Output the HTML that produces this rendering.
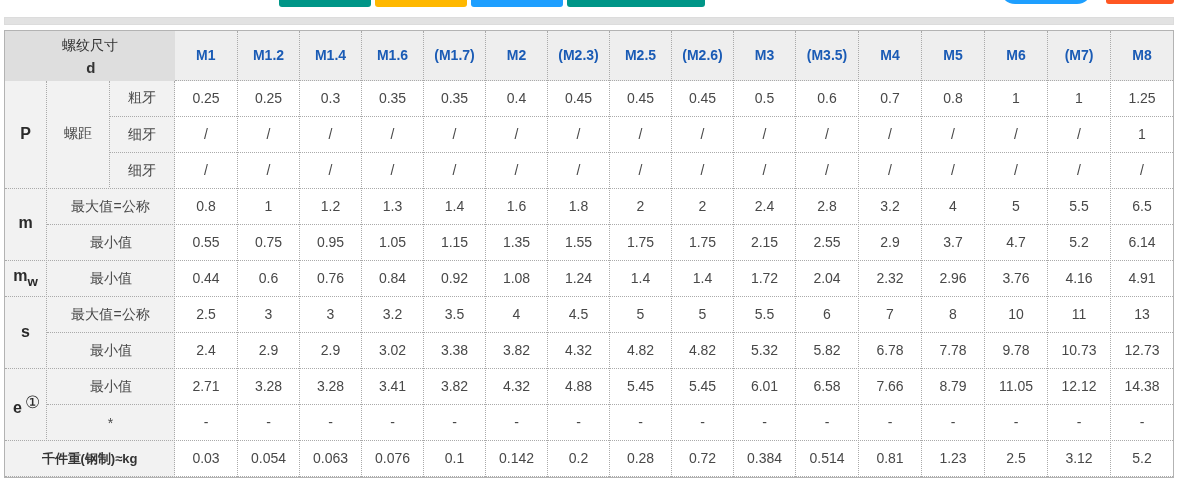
<!DOCTYPE html>
<html><head><meta charset="utf-8">
<style>
html,body{margin:0;padding:0;background:#fff;}
body{width:1178px;height:483px;overflow:hidden;position:relative;font-family:"Liberation Sans",sans-serif;font-size:14px;color:#484848;}
.btn{position:absolute;top:-20px;height:27px;border-radius:3px;}
.b1{left:279px;width:92px;background:#009688;}
.b2{left:375px;width:92px;background:#FFB800;}
.b3{left:471px;width:92px;background:#1E9FFF;}
.b4{left:567px;width:138px;background:#009688;}
.b5{left:1000px;width:92px;top:-26px;height:30px;border-radius:15px;background:#1E9FFF;}
.b6{left:1106px;width:68px;top:-23px;height:27px;background:#FF5722;}
.bar{position:absolute;left:4px;top:17px;width:1170px;height:8px;background:#e2e2e2;box-sizing:border-box;border:1px solid #dcdcdc;}
table{position:absolute;left:4px;top:30px;border-collapse:collapse;table-layout:fixed;width:1170px;border:1px solid transparent;border-bottom:none;will-change:transform;}
td{border:1px dotted transparent;text-align:center;padding:0;height:35px;}
td i{font-style:normal;position:relative;top:-1px;}
tr.h td{height:49px;background:#eee;color:#1a5bb5;font-weight:bold;border-top:1px solid transparent;}
tr.h td.f{background:#dedede;color:#333;font-weight:normal;border:none;border-left:1px solid transparent;border-top:1px solid transparent;line-height:21px;padding-top:2px;height:47px;}
tr.h td.f b{position:relative;top:1px;left:1px;font-size:15px;}
tr.h td.m1{border-left:none;}
tr.r1 td.l{border-top:none;}
svg.ov{position:absolute;left:0;top:0;width:1178px;height:483px;shape-rendering:crispEdges;}
td.l{background:#f2f2f2;}
td.l i{top:0;}
td.b{font-weight:bold;font-size:16px;color:#2a2a2a;}
td.b i{top:0;}
td.wt{font-size:13px;color:#333;}
td.wt i{top:0;}
td.mm i{top:-2px;}
td.ss i{top:-1px;}
td.b i.mwi{top:-1px;}
i.mwi sub{position:relative;top:1px;}
.c{font-weight:normal;font-size:17px;position:relative;top:-5px;margin-left:3px;}
td.b i.ei{top:3px;left:1px;}
</style></head><body>
<div class="btn b1"></div><div class="btn b2"></div><div class="btn b3"></div><div class="btn b4"></div><div class="btn b5"></div><div class="btn b6"></div>
<div class="bar"></div>
<table>
<colgroup><col style="width:42px"><col style="width:63px"><col style="width:65px"><col style="width:63px"><col style="width:62px"><col style="width:62px"><col style="width:62px"><col style="width:62px"><col style="width:62px"><col style="width:62px"><col style="width:62px"><col style="width:62px"><col style="width:62px"><col style="width:63px"><col style="width:63px"><col style="width:63px"><col style="width:63px"><col style="width:63px"><col style="width:63px"></colgroup>
<tr class="h"><td class="f" colspan="3">螺纹尺寸<br><b>d</b></td><td class=m1><i>M1</i></td><td><i>M1.2</i></td><td><i>M1.4</i></td><td><i>M1.6</i></td><td><i>(M1.7)</i></td><td><i>M2</i></td><td><i>(M2.3)</i></td><td><i>M2.5</i></td><td><i>(M2.6)</i></td><td><i>M3</i></td><td><i>(M3.5)</i></td><td><i>M4</i></td><td><i>M5</i></td><td><i>M6</i></td><td><i>(M7)</i></td><td><i>M8</i></td></tr>
<tr class="r1"><td class="l b" rowspan="3"><i>P</i></td><td class="l" rowspan="3"><i>螺距</i></td><td class="l"><i>粗牙</i></td><td><i>0.25</i></td><td><i>0.25</i></td><td><i>0.3</i></td><td><i>0.35</i></td><td><i>0.35</i></td><td><i>0.4</i></td><td><i>0.45</i></td><td><i>0.45</i></td><td><i>0.45</i></td><td><i>0.5</i></td><td><i>0.6</i></td><td><i>0.7</i></td><td><i>0.8</i></td><td><i>1</i></td><td><i>1</i></td><td><i>1.25</i></td></tr>
<tr><td class="l"><i>细牙</i></td><td><i>/</i></td><td><i>/</i></td><td><i>/</i></td><td><i>/</i></td><td><i>/</i></td><td><i>/</i></td><td><i>/</i></td><td><i>/</i></td><td><i>/</i></td><td><i>/</i></td><td><i>/</i></td><td><i>/</i></td><td><i>/</i></td><td><i>/</i></td><td><i>/</i></td><td><i>1</i></td></tr>
<tr><td class="l"><i>细牙</i></td><td><i>/</i></td><td><i>/</i></td><td><i>/</i></td><td><i>/</i></td><td><i>/</i></td><td><i>/</i></td><td><i>/</i></td><td><i>/</i></td><td><i>/</i></td><td><i>/</i></td><td><i>/</i></td><td><i>/</i></td><td><i>/</i></td><td><i>/</i></td><td><i>/</i></td><td><i>/</i></td></tr>
<tr><td class="l b mm" rowspan="2"><i>m</i></td><td class="l" colspan="2"><i>最大值=公称</i></td><td><i>0.8</i></td><td><i>1</i></td><td><i>1.2</i></td><td><i>1.3</i></td><td><i>1.4</i></td><td><i>1.6</i></td><td><i>1.8</i></td><td><i>2</i></td><td><i>2</i></td><td><i>2.4</i></td><td><i>2.8</i></td><td><i>3.2</i></td><td><i>4</i></td><td><i>5</i></td><td><i>5.5</i></td><td><i>6.5</i></td></tr>
<tr><td class="l" colspan="2"><i>最小值</i></td><td><i>0.55</i></td><td><i>0.75</i></td><td><i>0.95</i></td><td><i>1.05</i></td><td><i>1.15</i></td><td><i>1.35</i></td><td><i>1.55</i></td><td><i>1.75</i></td><td><i>1.75</i></td><td><i>2.15</i></td><td><i>2.55</i></td><td><i>2.9</i></td><td><i>3.7</i></td><td><i>4.7</i></td><td><i>5.2</i></td><td><i>6.14</i></td></tr>
<tr><td class="l b"><i class=mwi>m<sub>w</sub></i></td><td class="l" colspan="2"><i>最小值</i></td><td><i>0.44</i></td><td><i>0.6</i></td><td><i>0.76</i></td><td><i>0.84</i></td><td><i>0.92</i></td><td><i>1.08</i></td><td><i>1.24</i></td><td><i>1.4</i></td><td><i>1.4</i></td><td><i>1.72</i></td><td><i>2.04</i></td><td><i>2.32</i></td><td><i>2.96</i></td><td><i>3.76</i></td><td><i>4.16</i></td><td><i>4.91</i></td></tr>
<tr><td class="l b ss" rowspan="2"><i>s</i></td><td class="l" colspan="2"><i>最大值=公称</i></td><td><i>2.5</i></td><td><i>3</i></td><td><i>3</i></td><td><i>3.2</i></td><td><i>3.5</i></td><td><i>4</i></td><td><i>4.5</i></td><td><i>5</i></td><td><i>5</i></td><td><i>5.5</i></td><td><i>6</i></td><td><i>7</i></td><td><i>8</i></td><td><i>10</i></td><td><i>11</i></td><td><i>13</i></td></tr>
<tr><td class="l" colspan="2"><i>最小值</i></td><td><i>2.4</i></td><td><i>2.9</i></td><td><i>2.9</i></td><td><i>3.02</i></td><td><i>3.38</i></td><td><i>3.82</i></td><td><i>4.32</i></td><td><i>4.82</i></td><td><i>4.82</i></td><td><i>5.32</i></td><td><i>5.82</i></td><td><i>6.78</i></td><td><i>7.78</i></td><td><i>9.78</i></td><td><i>10.73</i></td><td><i>12.73</i></td></tr>
<tr><td class="l b" rowspan="2"><i class=ei>e<span class=c>①</span></i></td><td class="l" colspan="2"><i>最小值</i></td><td><i>2.71</i></td><td><i>3.28</i></td><td><i>3.28</i></td><td><i>3.41</i></td><td><i>3.82</i></td><td><i>4.32</i></td><td><i>4.88</i></td><td><i>5.45</i></td><td><i>5.45</i></td><td><i>6.01</i></td><td><i>6.58</i></td><td><i>7.66</i></td><td><i>8.79</i></td><td><i>11.05</i></td><td><i>12.12</i></td><td><i>14.38</i></td></tr>
<tr><td class="l" colspan="2"><i>*</i></td><td><i>-</i></td><td><i>-</i></td><td><i>-</i></td><td><i>-</i></td><td><i>-</i></td><td><i>-</i></td><td><i>-</i></td><td><i>-</i></td><td><i>-</i></td><td><i>-</i></td><td><i>-</i></td><td><i>-</i></td><td><i>-</i></td><td><i>-</i></td><td><i>-</i></td><td><i>-</i></td></tr>
<tr><td class="l b wt" colspan="3"><i>千件重(钢制)≈kg</i></td><td><i>0.03</i></td><td><i>0.054</i></td><td><i>0.063</i></td><td><i>0.076</i></td><td><i>0.1</i></td><td><i>0.142</i></td><td><i>0.2</i></td><td><i>0.28</i></td><td><i>0.72</i></td><td><i>0.384</i></td><td><i>0.514</i></td><td><i>0.81</i></td><td><i>1.23</i></td><td><i>2.5</i></td><td><i>3.12</i></td><td><i>5.2</i></td></tr>
</table>
<svg class="ov" width="1178" height="483" viewBox="0 0 1178 483"><rect x="175" y="80" width="1" height="1" fill="#aaa"/><line x1="176" y1="80.5" x2="1173" y2="80.5" stroke="#aaa" stroke-width="1" stroke-dasharray="1 1"/><line x1="110" y1="116.5" x2="1173" y2="116.5" stroke="#aaa" stroke-width="1" stroke-dasharray="1 1"/><line x1="110" y1="152.5" x2="1173" y2="152.5" stroke="#aaa" stroke-width="1" stroke-dasharray="1 1"/><rect x="5" y="188" width="1" height="1" fill="#aaa"/><line x1="6" y1="188.5" x2="1173" y2="188.5" stroke="#aaa" stroke-width="1" stroke-dasharray="1 1"/><rect x="5" y="260" width="1" height="1" fill="#aaa"/><line x1="6" y1="260.5" x2="1173" y2="260.5" stroke="#aaa" stroke-width="1" stroke-dasharray="1 1"/><rect x="5" y="296" width="1" height="1" fill="#aaa"/><line x1="6" y1="296.5" x2="1173" y2="296.5" stroke="#aaa" stroke-width="1" stroke-dasharray="1 1"/><rect x="5" y="368" width="1" height="1" fill="#aaa"/><line x1="6" y1="368.5" x2="1173" y2="368.5" stroke="#aaa" stroke-width="1" stroke-dasharray="1 1"/><rect x="5" y="440" width="1" height="1" fill="#aaa"/><line x1="6" y1="440.5" x2="1173" y2="440.5" stroke="#aaa" stroke-width="1" stroke-dasharray="1 1"/><rect x="5" y="476" width="1" height="1" fill="#aaa"/><line x1="6" y1="476.5" x2="1173" y2="476.5" stroke="#aaa" stroke-width="1" stroke-dasharray="1 1"/><rect x="47" y="224" width="1" height="1" fill="#aaa"/><line x1="48" y1="224.5" x2="1173" y2="224.5" stroke="#aaa" stroke-width="1" stroke-dasharray="1 1"/><rect x="47" y="332" width="1" height="1" fill="#aaa"/><line x1="48" y1="332.5" x2="1173" y2="332.5" stroke="#aaa" stroke-width="1" stroke-dasharray="1 1"/><rect x="47" y="404" width="1" height="1" fill="#aaa"/><line x1="48" y1="404.5" x2="1173" y2="404.5" stroke="#aaa" stroke-width="1" stroke-dasharray="1 1"/><rect x="46" y="81" width="1" height="1" fill="#aaa"/><line x1="46.5" y1="82" x2="46.5" y2="440" stroke="#aaa" stroke-width="1" stroke-dasharray="1 1"/><rect x="109" y="81" width="1" height="1" fill="#aaa"/><line x1="109.5" y1="82" x2="109.5" y2="188" stroke="#aaa" stroke-width="1" stroke-dasharray="1 1"/><rect x="174" y="81" width="1" height="1" fill="#aaa"/><line x1="174.5" y1="82" x2="174.5" y2="477" stroke="#aaa" stroke-width="1" stroke-dasharray="1 1"/><rect x="237" y="31" width="1" height="1" fill="#aaa"/><line x1="237.5" y1="32" x2="237.5" y2="477" stroke="#aaa" stroke-width="1" stroke-dasharray="1 1"/><rect x="299" y="31" width="1" height="1" fill="#aaa"/><line x1="299.5" y1="32" x2="299.5" y2="477" stroke="#aaa" stroke-width="1" stroke-dasharray="1 1"/><rect x="361" y="31" width="1" height="1" fill="#aaa"/><line x1="361.5" y1="32" x2="361.5" y2="477" stroke="#aaa" stroke-width="1" stroke-dasharray="1 1"/><rect x="423" y="31" width="1" height="1" fill="#aaa"/><line x1="423.5" y1="32" x2="423.5" y2="477" stroke="#aaa" stroke-width="1" stroke-dasharray="1 1"/><rect x="485" y="31" width="1" height="1" fill="#aaa"/><line x1="485.5" y1="32" x2="485.5" y2="477" stroke="#aaa" stroke-width="1" stroke-dasharray="1 1"/><rect x="547" y="31" width="1" height="1" fill="#aaa"/><line x1="547.5" y1="32" x2="547.5" y2="477" stroke="#aaa" stroke-width="1" stroke-dasharray="1 1"/><rect x="609" y="31" width="1" height="1" fill="#aaa"/><line x1="609.5" y1="32" x2="609.5" y2="477" stroke="#aaa" stroke-width="1" stroke-dasharray="1 1"/><rect x="671" y="31" width="1" height="1" fill="#aaa"/><line x1="671.5" y1="32" x2="671.5" y2="477" stroke="#aaa" stroke-width="1" stroke-dasharray="1 1"/><rect x="733" y="31" width="1" height="1" fill="#aaa"/><line x1="733.5" y1="32" x2="733.5" y2="477" stroke="#aaa" stroke-width="1" stroke-dasharray="1 1"/><rect x="795" y="31" width="1" height="1" fill="#aaa"/><line x1="795.5" y1="32" x2="795.5" y2="477" stroke="#aaa" stroke-width="1" stroke-dasharray="1 1"/><rect x="858" y="31" width="1" height="1" fill="#aaa"/><line x1="858.5" y1="32" x2="858.5" y2="477" stroke="#aaa" stroke-width="1" stroke-dasharray="1 1"/><rect x="921" y="31" width="1" height="1" fill="#aaa"/><line x1="921.5" y1="32" x2="921.5" y2="477" stroke="#aaa" stroke-width="1" stroke-dasharray="1 1"/><rect x="984" y="31" width="1" height="1" fill="#aaa"/><line x1="984.5" y1="32" x2="984.5" y2="477" stroke="#aaa" stroke-width="1" stroke-dasharray="1 1"/><rect x="1047" y="31" width="1" height="1" fill="#aaa"/><line x1="1047.5" y1="32" x2="1047.5" y2="477" stroke="#aaa" stroke-width="1" stroke-dasharray="1 1"/><rect x="1110" y="31" width="1" height="1" fill="#aaa"/><line x1="1110.5" y1="32" x2="1110.5" y2="477" stroke="#aaa" stroke-width="1" stroke-dasharray="1 1"/><rect x="4" y="30" width="1170" height="1" fill="#b3b3b3"/><rect x="4" y="477" width="1170" height="1" fill="#b3b3b3"/><rect x="4" y="30" width="1" height="448" fill="#b3b3b3"/><rect x="1173" y="30" width="1" height="448" fill="#b3b3b3"/></svg>
</body></html>
